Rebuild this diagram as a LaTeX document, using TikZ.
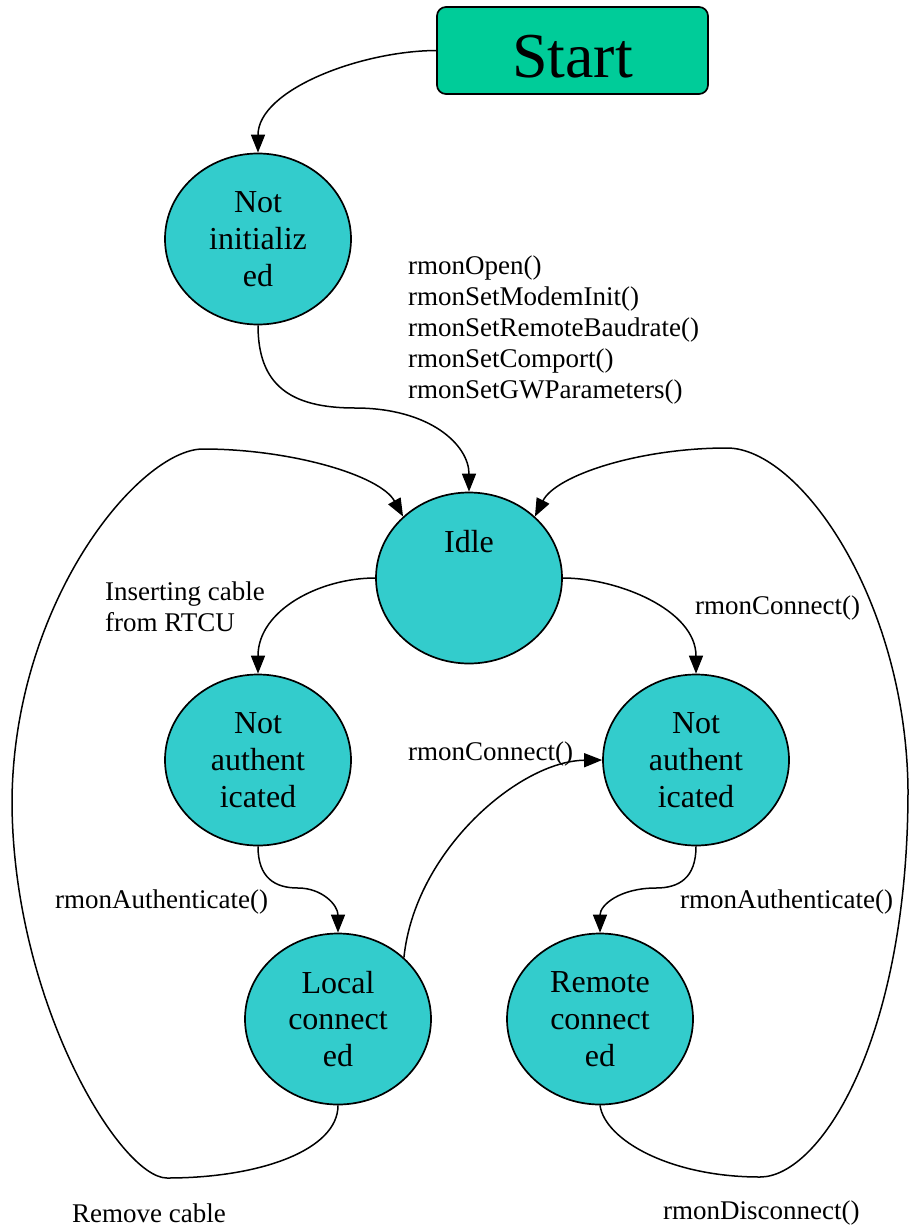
\documentclass[tikz,border=0pt]{standalone}
\usepackage{fontspec}
\setmainfont{Liberation Serif}
\usetikzlibrary{shapes.geometric,arrows.meta}
\definecolor{startgreen}{HTML}{00CC99}
\definecolor{statecyan}{HTML}{33CCCC}
\begin{document}
\begin{tikzpicture}[x=1pt,y=-1pt,
 state/.style={ellipse,draw=black,line width=1.7pt,fill=statecyan,minimum width=186pt,minimum height=171pt,inner sep=0pt,align=center,font=\fontsize{32}{36.7}\selectfont},
 startbox/.style={rectangle,rounded corners=9pt,draw=black,line width=1.7pt,fill=startgreen,minimum width=271pt,minimum height=87pt,inner sep=0pt,text height=55pt,text depth=0pt,font=\fontsize{64}{70}\selectfont},
 conn/.style={line width=1.5pt,-{Triangle[length=18pt,width=14pt]}},
 lbl/.style={anchor=west,inner sep=0pt,align=left,font=\fontsize{27}{31}\selectfont}]
\useasboundingbox (0,0) rectangle (911,1228);

\node[startbox] (start) at (572.5,50.5) {Start};
\node[state] (ni) at (258,239) {Not\\initializ\\ed};
\node[state] (idle) at (469,578) {Idle\\~\\~};
\node[state] (nal) at (258,760) {Not\\authent\\icated};
\node[state] (nar) at (696,760) {Not\\authent\\icated};
\node[state] (local) at (338,1019) {Local\\connect\\ed};
\node[state] (remote) at (600,1019) {Remote\\connect\\ed};

\node[lbl] (ops) at (408,330) {rmonOpen()\\rmonSetModemInit()\\rmonSetRemoteBaudrate()\\rmonSetComport()\\rmonSetGWParameters()};
\node[lbl] (ins) at (105,607) {Inserting cable\\from RTCU};
\node[lbl] (conr) at (695,608) {rmonConnect()};
\node[lbl] (conm) at (408,754) {rmonConnect()};
\node[lbl] (authl) at (55,902) {rmonAuthenticate()};
\node[lbl] (authr) at (680,902) {rmonAuthenticate()};
\node[lbl] (remove) at (72,1213) {Remove cable};
\node[lbl] (disc) at (663,1213) {rmonDisconnect()};

\draw[conn] (start.west) .. controls (360,51) and (258,90) .. (ni.north);
\draw[conn] (ni.south) .. controls (258,385) and (290,408) .. (355,408) .. controls (430,408) and (469,445) .. (idle.north);
\draw[conn] (local.south) .. controls (338,1150) and (260,1178) .. (167,1178) .. controls (120,1178) and (12,1000) .. (12,800) .. controls (14,600) and (140,449) .. (203,449) .. controls (290,449) and (380,475) .. (idle.137);
\draw[conn] (remote.south) .. controls (605,1140) and (670,1177) .. (760,1177) .. controls (820,1177) and (908,1040) .. (908,790) .. controls (906,600) and (800,448) .. (727,448) .. controls (640,448) and (556,475) .. (idle.43);
\draw[conn] (idle.west) .. controls (320,578) and (258,610) .. (nal.north);
\draw[conn] (idle.east) .. controls (618,578) and (696,610) .. (nar.north);
\draw[conn] (nal.south) .. controls (258,878) and (275,888) .. (298,888) .. controls (322,888) and (338,905) .. (local.north);
\draw[conn] (nar.south) .. controls (696,878) and (679,888) .. (656,888) .. controls (620,888) and (600,905) .. (remote.north);
\draw[conn] (local.43) .. controls (415,850) and (520,761) .. (nar.west);
\end{tikzpicture}
\end{document}
